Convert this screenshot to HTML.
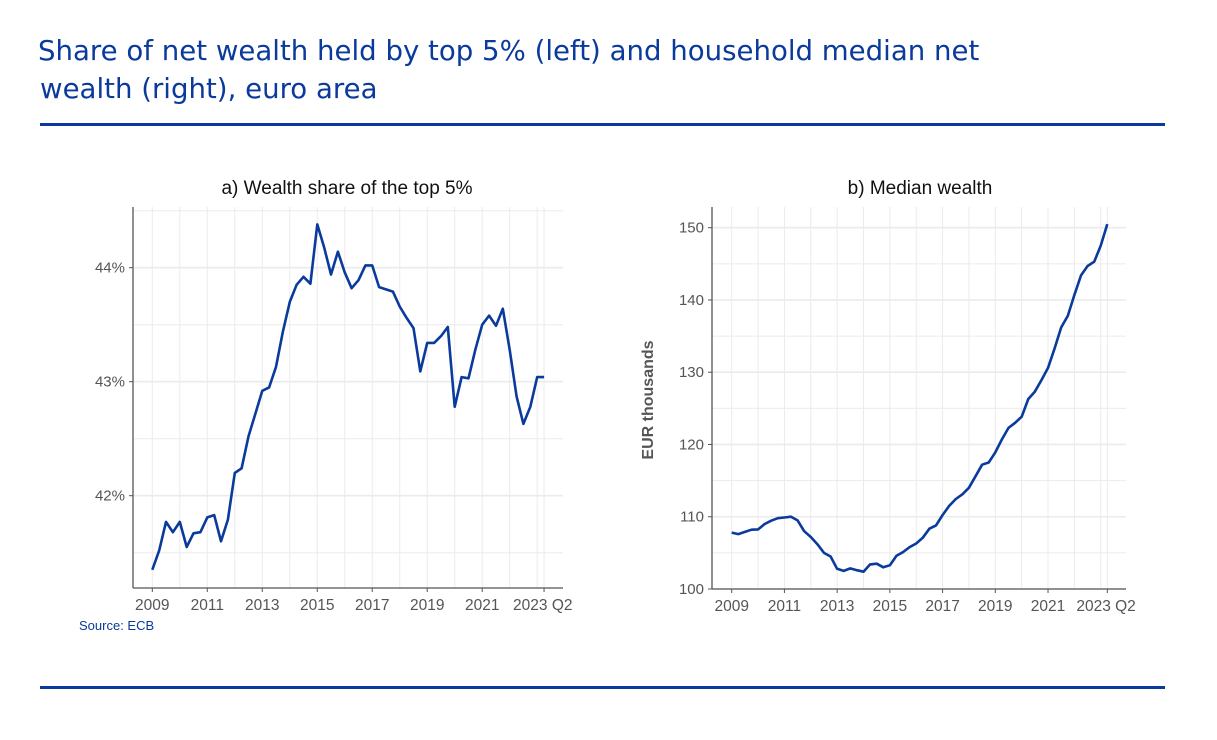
<!DOCTYPE html>
<html><head><meta charset="utf-8"><style>
body{margin:0;background:#fff;width:1217px;height:740px;overflow:hidden;font-family:"Liberation Sans",sans-serif}
.t{position:absolute;left:38px;color:#0a3a9c;font-size:27.6px;white-space:nowrap;font-family:"DejaVu Sans",sans-serif}
.rule{position:absolute;left:40px;width:1125px;height:3px;background:#0a3a9c}
</style></head><body>
<div class="t" style="top:34px">Share of net wealth held by top 5% (left) and household median net</div>
<div class="t" style="top:72px;left:40px">wealth (right), euro area</div>
<div class="rule" style="top:123px"></div>
<div class="rule" style="top:686px"></div>
<svg id="svg" width="1217" height="740" style="position:absolute;left:0;top:0"></svg>
<script>
const leftTitle="a) Wealth share of the top 5%";
const rightTitle="b) Median wealth";
const xTickLabels=["2009","2011","2013","2015","2017","2019","2021","2023 Q2"];
const xTickQuarters=[0,8,16,24,32,40,48,57];
const leftYTicks=[42,43,44];
const rightYTicks=[100,110,120,130,140,150];
const top5Share=[41.35,41.52,41.77,41.68,41.77,41.55,41.67,41.68,41.81,41.83,41.60,41.79,42.20,42.24,42.52,42.72,42.92,42.95,43.13,43.44,43.70,43.85,43.92,43.86,44.38,44.18,43.94,44.14,43.96,43.82,43.89,44.02,44.02,43.83,43.81,43.79,43.66,43.56,43.47,43.09,43.34,43.34,43.40,43.48,42.78,43.04,43.03,43.28,43.50,43.58,43.49,43.64,43.28,42.87,42.63,42.78,43.04,43.04];
const medianWealth=[107.8,107.6,107.9,108.2,108.25,109.0,109.45,109.8,109.9,110.0,109.5,108.0,107.2,106.2,105.0,104.5,102.8,102.5,102.85,102.6,102.4,103.4,103.5,103.0,103.3,104.6,105.1,105.8,106.3,107.1,108.35,108.8,110.24,111.5,112.45,113.1,114.0,115.6,117.2,117.5,118.9,120.7,122.3,123.0,123.85,126.3,127.3,128.9,130.6,133.3,136.2,137.8,140.7,143.4,144.7,145.3,147.5,150.5];
const NS="http://www.w3.org/2000/svg";
const svg=document.getElementById('svg');
function mk(tag,attrs,parent){const e=document.createElementNS(NS,tag);for(const k in attrs)e.setAttribute(k,attrs[k]);(parent||svg).appendChild(e);return e;}
function panel(cfg){
  const g=mk('g',{});
  
  
  const x=q=>cfg.x0+q*cfg.qw;
  const y=v=>cfg.yb-(v-cfg.vmin)*cfg.py;
  for(let yr=0;yr<=14;yr++){const gl=mk('line',{x1:x(yr*4),x2:x(yr*4),y1:cfg.top,y2:cfg.bottom,stroke:'#ebebeb','stroke-width':1},g);
    }
  const l2=mk('line',{x1:x(57),x2:x(57),y1:cfg.top,y2:cfg.bottom,stroke:'#ebebeb','stroke-width':1},g);
  
  for(let v=cfg.gmin;v<=cfg.gmax+1e-9;v+=cfg.gstep){const yy=y(v);if(yy<cfg.top||yy>cfg.bottom)continue;
    const gl=mk('line',{x1:cfg.axX,x2:cfg.right,y1:yy,y2:yy,stroke:'#ebebeb','stroke-width':(Math.abs(v/cfg.major-Math.round(v/cfg.major))<1e-6)?1.6:1},g);
    }
  const ya=mk('line',{x1:cfg.axX,x2:cfg.axX,y1:cfg.top,y2:cfg.bottom,stroke:'#555','stroke-width':1.3},g);
  
  const xa=mk('line',{x1:cfg.axX,x2:cfg.right,y1:cfg.bottom,y2:cfg.bottom,stroke:'#555','stroke-width':1.3},g);
  
  cfg.yticks.forEach(v=>{const yy=y(v);
    const tk=mk('line',{x1:cfg.axX-4,x2:cfg.axX,y1:yy,y2:yy,stroke:'#555'},g);
    
    const t=mk('text',{x:cfg.axX-8,y:yy+5,'text-anchor':'end','font-size':15,fill:'#555'},g);
    t.textContent=cfg.fmt(v);
    });
  xTickQuarters.forEach((q,i)=>{const xx=x(q);
    const tk=mk('line',{x1:xx,x2:xx,y1:cfg.bottom,y2:cfg.bottom+4,stroke:'#555'},g);
    
    const last=i===xTickQuarters.length-1;
    const t=mk('text',{x:last?xx-31:xx,y:cfg.bottom+22,'text-anchor':last?'start':'middle','font-size':15.5,fill:'#555'},g);
    t.textContent=xTickLabels[i];
    });
  const tt=mk('text',{x:cfg.titleX,y:194,'text-anchor':'middle','font-size':19,fill:'#111'},g);
  tt.textContent=cfg.title;
  
  const p=mk('path',{d:cfg.data.map((v,i)=>(i?'L':'M')+x(i).toFixed(1)+','+y(v).toFixed(1)).join(''),fill:'none',stroke:'#0a3a9c','stroke-width':2.6,'stroke-linejoin':'round'},g);
  
}
panel({name:'left-panel',lineName:'top5-share-line',x0:152.3,qw:6.873,yb:381.7,vmin:43,py:114,top:207,bottom:588,axX:133,right:563,
  gmin:41.5,gmax:44.5,gstep:0.5,major:1,yticks:leftYTicks,fmt:v=>v+'%',title:leftTitle,titleX:347,data:top5Share});
panel({name:'right-panel',lineName:'median-wealth-line',x0:731.7,qw:6.59,yb:589,vmin:100,py:7.226,top:207,bottom:589,axX:712,right:1126,
  gmin:100,gmax:155,gstep:5,major:10,yticks:rightYTicks,fmt:v=>String(v),title:rightTitle,titleX:920,data:medianWealth});
const yl=mk('text',{x:0,y:0,transform:'translate(653,400) rotate(-90)','text-anchor':'middle','font-size':16,'font-weight':'bold',fill:'#555'});
yl.textContent='EUR thousands';


const src=mk('text',{x:79,y:630,'font-size':13,fill:'#0a3a9c'});
src.textContent='Source: ECB';


</script>
</body></html>
